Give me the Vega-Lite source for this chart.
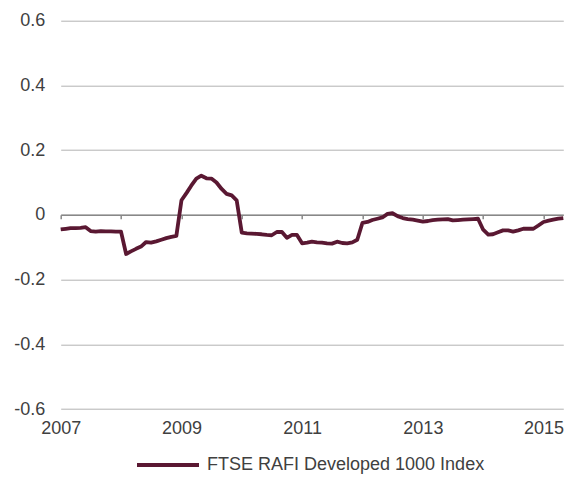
{
  "$schema": "https://vega.github.io/schema/vega-lite/v6.json",
  "autosize": "none",
  "width": 502.6,
  "height": 388.3,
  "padding": {"left": 60.7, "top": 20.7, "right": 9.7, "bottom": 72},
  "background": "white",
  "config": {
    "view": {"stroke": null},
    "font": "Liberation Sans",
    "axis": {"labelFont": "Liberation Sans", "labelFontSize": 18, "labelColor": "#404040"},
    "legend": {"labelFont": "Liberation Sans", "labelFontSize": 18, "labelColor": "#404040"}
  },
  "data": {
    "values": [
      {"date": "2007-01-01", "value": -0.045},
      {"date": "2007-02-01", "value": -0.043},
      {"date": "2007-03-01", "value": -0.041},
      {"date": "2007-04-01", "value": -0.041},
      {"date": "2007-05-01", "value": -0.040},
      {"date": "2007-06-01", "value": -0.038},
      {"date": "2007-07-01", "value": -0.050},
      {"date": "2007-08-01", "value": -0.052},
      {"date": "2007-09-01", "value": -0.050},
      {"date": "2007-10-01", "value": -0.051},
      {"date": "2007-11-01", "value": -0.051},
      {"date": "2007-12-01", "value": -0.052},
      {"date": "2008-01-01", "value": -0.052},
      {"date": "2008-02-01", "value": -0.121},
      {"date": "2008-03-01", "value": -0.113},
      {"date": "2008-04-01", "value": -0.105},
      {"date": "2008-05-01", "value": -0.098},
      {"date": "2008-06-01", "value": -0.084},
      {"date": "2008-07-01", "value": -0.086},
      {"date": "2008-08-01", "value": -0.082},
      {"date": "2008-09-01", "value": -0.077},
      {"date": "2008-10-01", "value": -0.072},
      {"date": "2008-11-01", "value": -0.068},
      {"date": "2008-12-01", "value": -0.065},
      {"date": "2009-01-01", "value": 0.045},
      {"date": "2009-02-01", "value": 0.068},
      {"date": "2009-03-01", "value": 0.090},
      {"date": "2009-04-01", "value": 0.112},
      {"date": "2009-05-01", "value": 0.121},
      {"date": "2009-06-01", "value": 0.113},
      {"date": "2009-07-01", "value": 0.112},
      {"date": "2009-08-01", "value": 0.100},
      {"date": "2009-09-01", "value": 0.080},
      {"date": "2009-10-01", "value": 0.065},
      {"date": "2009-11-01", "value": 0.060},
      {"date": "2009-12-01", "value": 0.045},
      {"date": "2010-01-01", "value": -0.055},
      {"date": "2010-02-01", "value": -0.057},
      {"date": "2010-03-01", "value": -0.058},
      {"date": "2010-04-01", "value": -0.059},
      {"date": "2010-05-01", "value": -0.060},
      {"date": "2010-06-01", "value": -0.062},
      {"date": "2010-07-01", "value": -0.063},
      {"date": "2010-08-01", "value": -0.053},
      {"date": "2010-09-01", "value": -0.053},
      {"date": "2010-10-01", "value": -0.071},
      {"date": "2010-11-01", "value": -0.062},
      {"date": "2010-12-01", "value": -0.062},
      {"date": "2011-01-01", "value": -0.088},
      {"date": "2011-02-01", "value": -0.086},
      {"date": "2011-03-01", "value": -0.083},
      {"date": "2011-04-01", "value": -0.085},
      {"date": "2011-05-01", "value": -0.086},
      {"date": "2011-06-01", "value": -0.088},
      {"date": "2011-07-01", "value": -0.089},
      {"date": "2011-08-01", "value": -0.083},
      {"date": "2011-09-01", "value": -0.087},
      {"date": "2011-10-01", "value": -0.088},
      {"date": "2011-11-01", "value": -0.085},
      {"date": "2011-12-01", "value": -0.077},
      {"date": "2012-01-01", "value": -0.025},
      {"date": "2012-02-01", "value": -0.022},
      {"date": "2012-03-01", "value": -0.016},
      {"date": "2012-04-01", "value": -0.012},
      {"date": "2012-05-01", "value": -0.008},
      {"date": "2012-06-01", "value": 0.003},
      {"date": "2012-07-01", "value": 0.005},
      {"date": "2012-08-01", "value": -0.004},
      {"date": "2012-09-01", "value": -0.010},
      {"date": "2012-10-01", "value": -0.013},
      {"date": "2012-11-01", "value": -0.015},
      {"date": "2012-12-01", "value": -0.018},
      {"date": "2013-01-01", "value": -0.021},
      {"date": "2013-02-01", "value": -0.019},
      {"date": "2013-03-01", "value": -0.016},
      {"date": "2013-04-01", "value": -0.015},
      {"date": "2013-05-01", "value": -0.014},
      {"date": "2013-06-01", "value": -0.013},
      {"date": "2013-07-01", "value": -0.017},
      {"date": "2013-08-01", "value": -0.016},
      {"date": "2013-09-01", "value": -0.015},
      {"date": "2013-10-01", "value": -0.014},
      {"date": "2013-11-01", "value": -0.013},
      {"date": "2013-12-01", "value": -0.012},
      {"date": "2014-01-01", "value": -0.046},
      {"date": "2014-02-01", "value": -0.061},
      {"date": "2014-03-01", "value": -0.060},
      {"date": "2014-04-01", "value": -0.054},
      {"date": "2014-05-01", "value": -0.048},
      {"date": "2014-06-01", "value": -0.048},
      {"date": "2014-07-01", "value": -0.052},
      {"date": "2014-08-01", "value": -0.048},
      {"date": "2014-09-01", "value": -0.043},
      {"date": "2014-10-01", "value": -0.043},
      {"date": "2014-11-01", "value": -0.043},
      {"date": "2014-12-01", "value": -0.033},
      {"date": "2015-01-01", "value": -0.022},
      {"date": "2015-02-01", "value": -0.018},
      {"date": "2015-03-01", "value": -0.015},
      {"date": "2015-04-01", "value": -0.012},
      {"date": "2015-05-01", "value": -0.010}
    ]
  },
  "mark": {"type": "line", "strokeWidth": 3.8, "strokeJoin": "round", "strokeCap": "butt"},
  "encoding": {
    "x": {
      "field": "date",
      "type": "temporal",
      "scale": {"domain": ["2007-01-01", "2015-05-01"], "nice": false},
      "axis": {
        "title": null,
        "grid": false,
        "offset": -194.2,
        "domain": true,
        "domainColor": "#888888",
        "domainWidth": 1.5,
        "ticks": true,
        "tickColor": "#888888",
        "tickWidth": 1.5,
        "tickSize": 4,
        "tickCount": {"interval": "year", "step": 1},
        "labelExpr": "year(datum.value) % 2 == 1 ? timeFormat(datum.value, '%Y') : ''",
        "labelPadding": 201,
        "labelOverlap": false,
        "labelFlush": false,
        "labelBaseline": "top"
      }
    },
    "y": {
      "field": "value",
      "type": "quantitative",
      "scale": {"domain": [-0.6, 0.6], "nice": false, "zero": false},
      "axis": {
        "title": null,
        "values": [-0.6, -0.4, -0.2, 0, 0.2, 0.4, 0.6],
        "grid": true,
        "gridColor": "#b3b3b3",
        "gridWidth": 1,
        "domain": false,
        "ticks": false,
        "tickSize": 0,
        "labelPadding": 16,
        "labelExpr": "datum.value < -0.0001 ? '-' + format(-datum.value, '.1f') : (abs(datum.value) < 0.0001 ? '0' : format(datum.value, '.1f'))"
      }
    },
    "color": {
      "datum": "FTSE RAFI Developed 1000 Index",
      "type": "nominal",
      "scale": {"range": ["#5a1832"]},
      "legend": {
        "title": null,
        "orient": "none",
        "legendX": 74.3,
        "legendY": 411.3,
        "symbolType": "stroke",
        "symbolSize": 3844,
        "symbolStrokeWidth": 3.8,
        "labelOffset": 6,
        "labelLimit": 0,
        "padding": 0
      }
    }
  }
}
